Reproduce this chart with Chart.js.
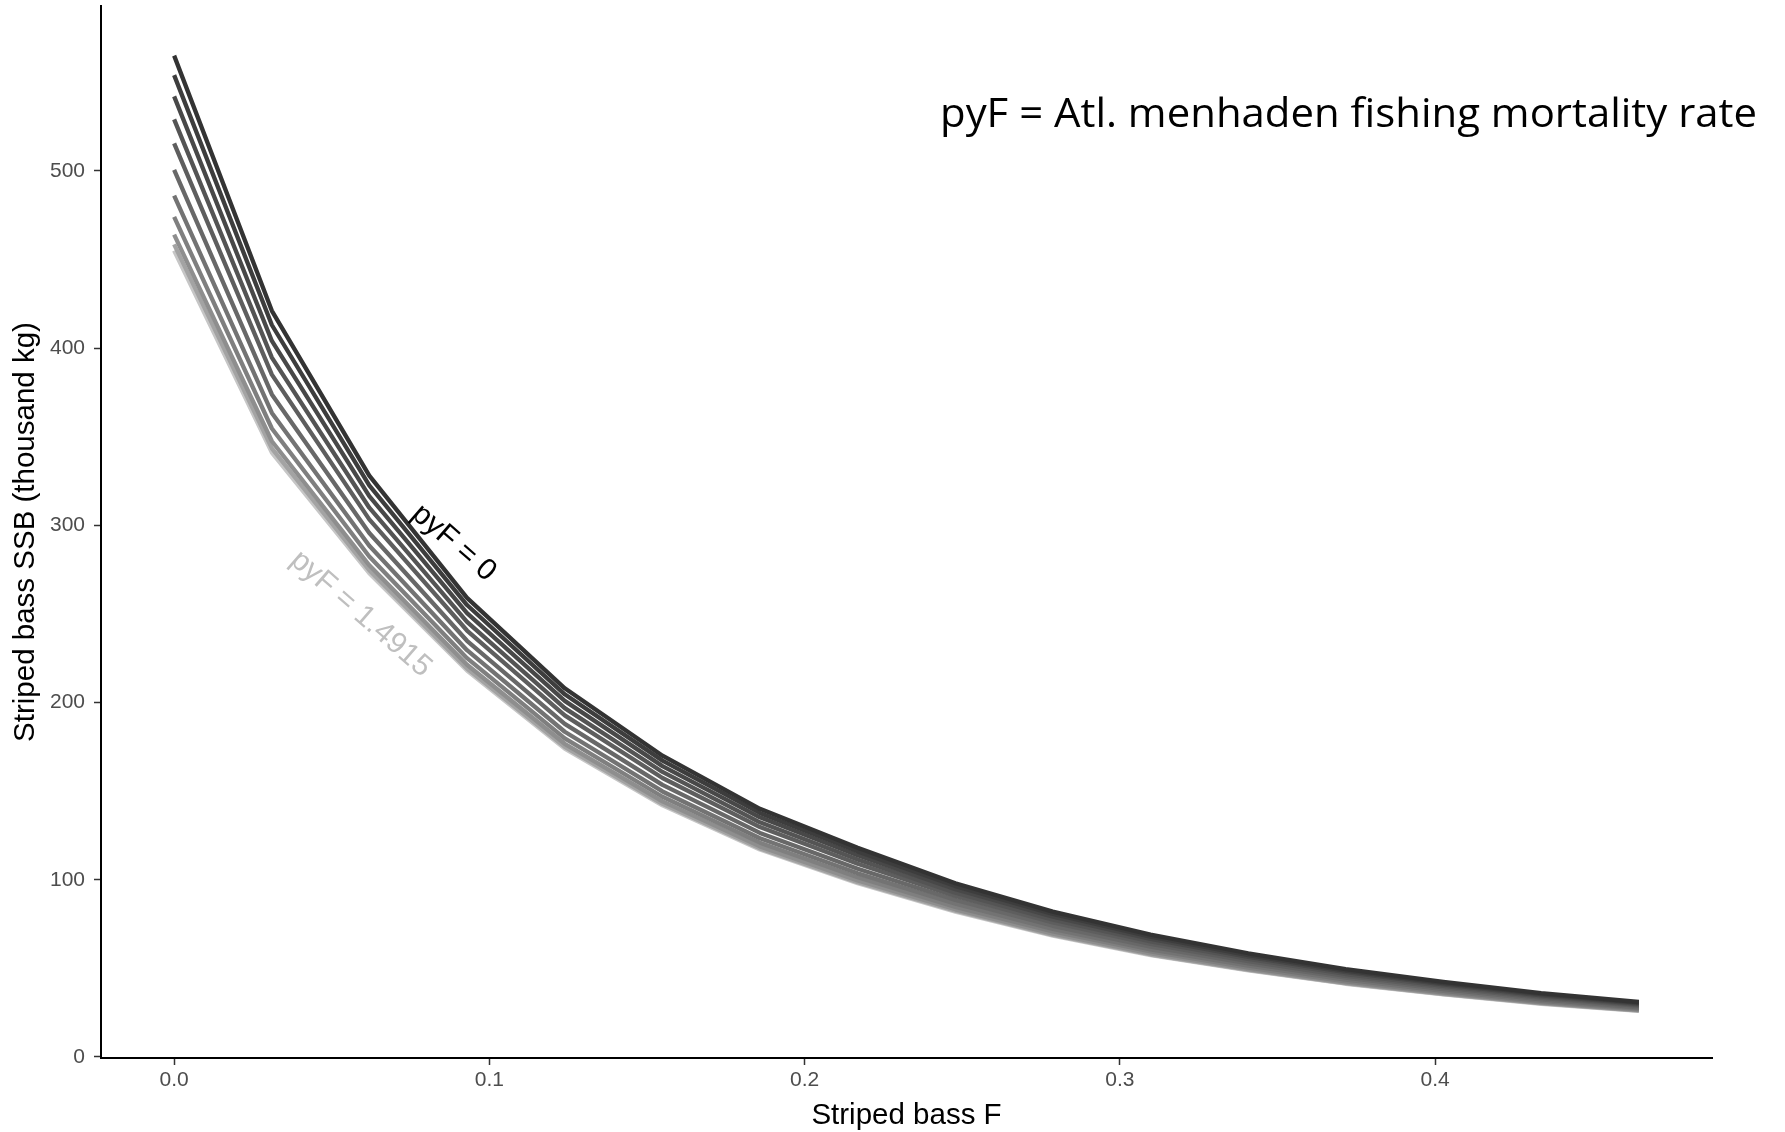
<!DOCTYPE html>
<html>
<head>
<meta charset="utf-8">
<script src="https://cdn.jsdelivr.net/npm/chart.js@4.4.1/dist/chart.umd.min.js"></script>
<style>
  html, body { margin: 0; padding: 0; background: #fff; }
  #wrap { width: 1785px; height: 1132px; }
</style>
</head>
<body>
<div id="wrap"><canvas id="chart" width="1785" height="1132"></canvas></div>
<script>
// striped bass fishing mortality (x)
const stripedBassF = [0, 0.031, 0.0619, 0.0929, 0.1239, 0.1549, 0.1858, 0.2168, 0.2478, 0.2787, 0.3097, 0.3407, 0.3716, 0.4026, 0.4336, 0.4646];

// menhaden F for each curve, dark -> light
const pyF = [0, 0.14915, 0.2983, 0.44745, 0.5966, 0.74575, 0.8949, 1.04405, 1.1932, 1.34235, 1.4915];

// SSB (thousand kg), one row per pyF
const ssb0  = [565, 421, 328, 259, 208, 170, 140, 118, 98, 82, 69, 58.5, 49.5, 42.4, 36, 31];
const ssb1  = [554, 413, 322.5, 255, 204.6, 167.2, 137.7, 116, 96.4, 80.7, 67.9, 57.5, 48.7, 41.7, 35.4, 30.5];
const ssb2  = [542, 404, 316.5, 250.4, 200.9, 164.1, 135.2, 113.8, 94.6, 79.2, 66.6, 56.5, 47.8, 40.9, 34.7, 30];
const ssb3  = [529, 394.6, 309.9, 245.5, 196.8, 160.8, 132.4, 111.4, 92.7, 77.5, 65.2, 55.3, 46.8, 40.1, 34, 29.4];
const ssb4  = [515.5, 385, 303.3, 240.6, 192.7, 157.4, 129.7, 109, 90.8, 75.9, 63.8, 54.1, 45.8, 39.2, 33.3, 28.8];
const ssb5  = [500.5, 373.8, 295.6, 234.8, 187.9, 153.5, 126.4, 106.2, 88.6, 74, 62.2, 52.8, 44.7, 38.2, 32.5, 28];
const ssb6  = [486, 363.4, 288.4, 229.5, 183.5, 149.8, 123.4, 103.6, 86.5, 72.3, 60.7, 51.5, 43.6, 37.3, 31.7, 27.4];
const ssb7  = [474, 354.6, 282.4, 225, 179.8, 146.8, 120.9, 101.4, 84.7, 70.8, 59.5, 50.4, 42.7, 36.5, 31, 26.9];
const ssb8  = [464, 347.4, 277.4, 221.3, 176.7, 144.2, 118.8, 99.6, 83.3, 69.6, 58.4, 49.6, 42, 35.9, 30.5, 26.4];
const ssb9  = [458.5, 343.4, 274.6, 219.2, 175, 142.8, 117.7, 98.6, 82.5, 68.9, 57.8, 49.1, 41.5, 35.5, 30.2, 26.1];
const ssb10 = [455, 341, 273, 218, 174, 142, 117, 98, 82, 68.5, 57.5, 48.8, 41.3, 35.3, 30, 26];
const ssbRows = [ssb0, ssb1, ssb2, ssb3, ssb4, ssb5, ssb6, ssb7, ssb8, ssb9, ssb10];

const lineColors = ['#333333', '#3d3d3d', '#484848', '#545454', '#5e5e5e', '#686868', '#737373', '#7f7f7f', '#8e8e8e', '#a3a3a3', '#c6c6c6'];

const xTicks = [0, 0.1, 0.2, 0.3, 0.4];
const yTicks = [0, 100, 200, 300, 400, 500];

// axis limits (ggplot-style expansion)
const xMin = -0.0232, xMax = 0.4878;
const yMin = -0.6, yMax = 593;

const curveLabels = [
  { text: 'pyF = 0', x: 0.0887, y: 290, color: '#000000' },
  { text: 'pyF = 1.4915', x: 0.0592, y: 250, color: '#bfbfbf' }
];
const noteText = 'pyF = Atl. menhaden fishing mortality rate';

const SANS = '"Liberation Sans", Arial, sans-serif';

const labelPlugin = {
  id: 'curveLabels',
  afterDraw(chart) {
    const { ctx, scales: { x, y } } = chart;
    curveLabels.forEach(l => {
      ctx.save();
      ctx.translate(x.getPixelForValue(l.x), y.getPixelForValue(l.y));
      ctx.rotate(41 * Math.PI / 180);
      ctx.font = '30px ' + SANS;
      ctx.fillStyle = l.color;
      ctx.textAlign = 'center';
      ctx.textBaseline = 'middle';
      ctx.fillText(l.text, 0, 0);
      ctx.restore();
    });

    // note in the top right, squeezed a bit to look like Calibri
    ctx.save();
    ctx.font = '41px "Open Sans", "Noto Sans", sans-serif';
    const w = ctx.measureText(noteText).width;
    const targetW = 817;
    const right = chart.width - 28;
    ctx.translate(right - targetW, 127);
    ctx.scale(targetW / w, 1);
    ctx.fillStyle = '#000';
    ctx.textAlign = 'left';
    ctx.textBaseline = 'alphabetic';
    ctx.fillText(noteText, 0, 0);
    ctx.restore();
  }
};

const datasets = ssbRows.map((row, i) => ({
  label: 'pyF = ' + pyF[i],
  data: row.map((v, j) => ({ x: stripedBassF[j], y: v })),
  borderColor: lineColors[i],
  borderWidth: 4.3,
  borderJoinStyle: 'round',
  pointRadius: 0,
  tension: 0,
  fill: false
}));

new Chart(document.getElementById('chart'), {
  type: 'line',
  data: { datasets },
  options: {
    responsive: false,
    animation: false,
    devicePixelRatio: 1,
    layout: { padding: { top: 6, right: 73, left: 0, bottom: 0 } },
    plugins: { legend: { display: false }, tooltip: { enabled: false } },
    scales: {
      x: {
        type: 'linear',
        min: xMin,
        max: xMax,
        afterBuildTicks: s => { s.ticks = xTicks.map(v => ({ value: v })); },
        afterFit: s => { s.height = 74; s.paddingLeft = 0; s.paddingRight = 0; },
        ticks: {
          callback: v => v.toFixed(1),
          color: '#4d4d4d',
          font: { family: SANS, size: 21 },
          padding: 3,
          maxRotation: 0,
          autoSkip: false
        },
        grid: { display: true, drawOnChartArea: false, drawTicks: true, tickLength: 7, tickColor: '#333', tickWidth: 1.5 },
        border: { display: true, color: '#000', width: 2 },
        title: {
          display: true,
          text: 'Striped bass F',
          color: '#000',
          font: { family: SANS, size: 29.5, lineHeight: 1 },
          padding: { top: 0, bottom: 1 }
        }
      },
      y: {
        type: 'linear',
        min: yMin,
        max: yMax,
        afterBuildTicks: s => { s.ticks = yTicks.map(v => ({ value: v })); },
        afterFit: s => { s.width = 101; s.paddingTop = 0; s.paddingBottom = 0; },
        ticks: {
          color: '#4d4d4d',
          font: { family: SANS, size: 21 },
          padding: 9
        },
        grid: { display: true, drawOnChartArea: false, drawTicks: true, tickLength: 7, tickColor: '#333', tickWidth: 1.5 },
        border: { display: true, color: '#000', width: 2 },
        title: {
          display: true,
          text: 'Striped bass SSB (thousand kg)',
          color: '#000',
          font: { family: SANS, size: 29.5, lineHeight: 1.2 },
          padding: { top: 8, bottom: 0 }
        }
      }
    }
  },
  plugins: [labelPlugin]
});
</script>
</body>
</html>
